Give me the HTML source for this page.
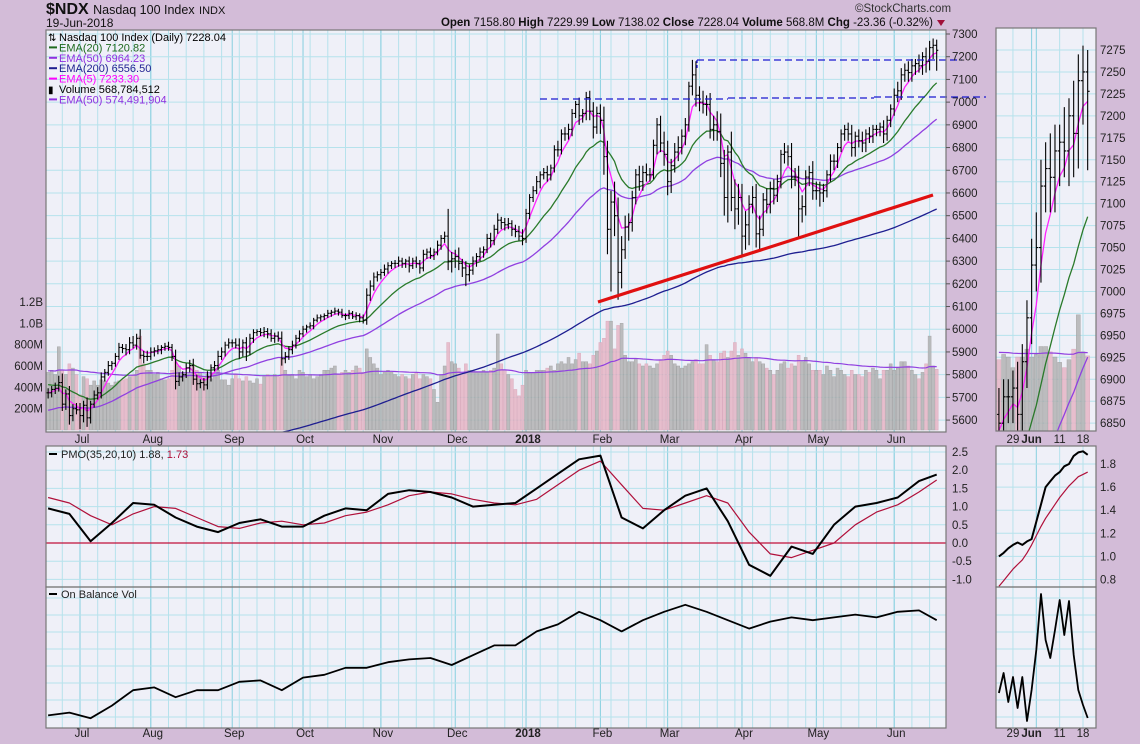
<!DOCTYPE html>
<html><head><meta charset="utf-8">
<style>
html,body{margin:0;padding:0;background:#d3bcd8;width:1140px;height:744px;overflow:hidden;}
svg{display:block;font-family:"Liberation Sans",sans-serif;overflow:hidden;}
</style></head>
<body>
<svg id="chart" width="1140" height="744" viewBox="0 0 1140 744">
<rect x="0" y="0" width="1140" height="744" fill="#d3bcd8"/>
<text x="46" y="14" font-size="16" font-weight="bold" fill="#111">$NDX <tspan font-size="12.5" font-weight="normal">Nasdaq 100 Index</tspan> <tspan font-size="11" font-weight="normal">INDX</tspan></text>
<text x="46" y="27" font-size="12" fill="#111">19-Jun-2018</text>
<text x="855" y="12" font-size="11.5" fill="#333">©StockCharts.com</text>
<text x="933" y="26" font-size="11.5" fill="#111" text-anchor="end"><tspan font-weight="bold">Open</tspan> 7158.80 <tspan font-weight="bold">High</tspan> 7229.99 <tspan font-weight="bold">Low</tspan> 7138.02 <tspan font-weight="bold">Close</tspan> 7228.04 <tspan font-weight="bold">Volume</tspan> 568.8M <tspan font-weight="bold">Chg</tspan> -23.36 (-0.32%)</text>
<path d="M937 20 L945 20 L941 26 Z" fill="#a0103a"/>
</svg>
<script>
// ---------- DATA ----------
const closes=[5720,5735,5740,5765,5670,5715,5620,5650,5645,
5620,5665,5610,5670,5710,5720,5790,5810,5840,5850,5880,5920,5915,5910,5940,5930,5960,5885,5880,5880,
5900,5905,5910,5920,5925,5920,5880,5770,5790,5800,5830,5840,5780,5760,5765,5755,5790,5830,5840,5880,5900,5930,5940,
5940,5930,5900,5940,5900,5960,5985,5990,5985,5990,5980,5960,5970,5960,5870,5880,5910,5930,5960,5980,
6000,6010,6015,6040,6050,6055,6060,6070,6075,6080,6075,6060,6060,6070,6055,6060,6050,6040,6150,6190,6230,6240,
6250,6265,6280,6290,6290,6300,6290,6300,6280,6300,6290,6270,6330,6340,6325,6340,6370,6400,6410,6300,6310,
6320,6290,6270,6240,6260,6300,6320,6340,6350,6400,6390,6440,6480,6470,6460,6465,6440,6430,6410,6400,
6510,6580,6610,6650,6680,6690,6680,6710,6790,6790,6860,6860,6880,6950,6990,6940,6950,7020,6960,6890,6950,
6920,6760,6440,6560,6500,6250,6350,6450,6470,6580,6680,6650,6690,6680,6680,6810,6900,6820,6770,
6650,6720,6780,6800,6850,6900,7070,7120,7030,7000,6990,6990,6880,6900,6870,6730,6580,6780,6580,6530,6580,
6410,6460,6550,6580,6420,6440,6570,6550,6620,6590,6650,6770,6780,6760,6670,6670,6530,6540,6670,6690,6610,
6610,6600,6610,6680,6740,6740,6800,6860,6880,6860,6800,6850,6830,6820,6860,6850,6880,6880,6890,6860,6920,6970,
7030,7050,7120,7140,7130,7160,7170,7160,7200,7180,7240,7250,7228];
const hiWick=[20,15,25,30,40,20,35,20,25, 30,20,35,15,20,25,20,15,20,10,15,20,15,20,25,30,20,40,20,25,
20,15,20,10,15,20,15,30,20,15,20,25,30,20,15,20,25,15,20,25,20,15,20,
15,20,30,15,25,20,15,10,15,20,15,20,15,20,30,20,15,20,15,15,
15,10,15,10,15,10,10,15,10,15,10,15,10,15,10,15,10,15,30,25,20,15,
15,20,15,10,15,20,15,10,20,15,20,15,20,15,20,15,20,15,20,120,30,
30,40,20,30,25,20,15,20,15,20,25,20,30,15,20,25,15,20,25,30,
20,15,20,25,15,20,30,15,20,40,20,30,25,20,15,30,20,25,30,40,30,
40,60,70,50,90,80,60,50,40,30,25,40,30,40,30,25,30,40,50,
60,30,40,50,30,30,20,66,60,40,50,40,50,40,60,80,60,30,90,80,60,
60,60,40,50,60,60,30,50,30,40,30,20,40,30,60,40,50,50,30,30,50,
40,40,30,20,30,30,20,20,20,30,40,20,30,40,20,30,20,20,20,30,20,20,
30,40,30,30,40,30,20,40,20,40,30,30,25];
const loWick=[25,20,20,15,30,25,40,25,20, 60,30,40,25,15,20,25,20,15,20,15,15,20,25,20,15,20,15,30,20,
15,20,15,20,15,15,20,35,20,20,15,20,25,30,20,25,20,20,15,20,15,20,15,
20,15,30,20,40,15,20,15,15,20,20,15,20,15,30,20,15,20,15,15,
15,15,10,15,10,15,15,10,15,10,15,10,20,15,10,15,20,15,20,25,20,20,
20,15,20,15,20,15,20,20,30,15,20,25,15,20,15,20,15,20,20,40,50,
40,30,40,50,30,20,25,20,25,15,30,20,20,30,25,20,30,25,20,30,
20,25,20,15,30,20,30,25,20,30,20,30,25,30,20,40,30,30,40,50,30,
60,80,110,274,90,120,70,40,60,40,30,40,40,30,30,20,40,40,50,
60,50,30,40,30,40,30,40,50,40,40,50,40,50,40,60,80,110,60,90,70,
90,60,90,40,60,80,30,40,40,40,30,30,40,40,50,40,130,60,40,40,40,
40,60,40,30,30,40,30,20,30,30,40,40,30,40,40,30,30,30,30,40,30,30,
30,30,40,30,40,40,40,30,40,50,40,50,90];
const volumeM=[540,560,520,780,560,520,620,580,520,
330,500,480,420,460,420,470,460,440,420,450,460,470,480,500,520,560,880,620,560,
560,520,540,480,470,480,560,640,600,540,520,520,600,560,540,500,520,480,520,560,470,470,420,
480,520,480,460,500,460,440,480,430,500,520,500,520,500,680,560,510,520,480,560,
540,500,520,480,500,520,560,560,580,600,520,540,560,540,560,600,580,540,760,680,620,580,
520,540,560,540,520,500,520,500,480,520,540,480,520,500,480,380,260,520,600,820,640,
620,580,520,620,560,560,540,540,560,540,560,580,900,620,560,520,480,380,320,420,
560,540,540,560,560,560,580,600,560,620,640,620,680,620,660,720,640,640,620,700,740,
820,860,1020,1020,760,980,1000,700,640,640,660,620,600,620,600,580,620,660,700,
740,700,620,600,580,600,620,640,660,620,620,800,700,660,640,720,740,680,740,820,700,
760,720,680,640,680,640,620,580,560,520,560,620,640,580,620,600,700,640,680,620,560,
560,560,520,600,560,500,580,560,520,500,560,520,520,500,560,540,580,560,480,560,560,620,
560,580,640,640,600,560,520,480,540,620,880,600,569];
// EMA starting values (history before the window)
const seedEma5=5720, seedEma20=5760, seedEma50=5640, seedEma200=5250, seedVolEma50=555;
// PMO sampled every 6 bars (plus last bar)
const pmoLine=[0.95,0.8,0.05,0.55,1.1,1.05,0.7,0.45,0.3,0.55,0.65,0.45,0.45,0.75,0.95,0.9,1.35,1.45,1.4,1.25,1.0,1.05,1.1,1.5,1.9,2.3,2.4,0.7,0.4,0.9,1.3,1.5,0.6,-0.6,-0.9,-0.1,-0.3,0.5,1.0,1.1,1.25,1.7,1.88];
const pmoSignal=[1.25,1.1,0.75,0.5,0.8,1.0,0.95,0.7,0.45,0.4,0.55,0.6,0.5,0.55,0.75,0.85,1.05,1.3,1.4,1.35,1.2,1.1,1.05,1.2,1.6,2.0,2.25,1.6,0.95,0.9,1.1,1.3,1.1,0.3,-0.3,-0.4,-0.2,0.0,0.5,0.85,1.05,1.4,1.73];
const obvLine=[0.9,1.1,0.7,1.6,2.7,2.9,2.2,2.7,2.7,3.3,3.4,2.7,3.6,3.8,4.3,4.3,4.7,4.9,5.0,4.5,5.2,5.9,5.9,6.9,7.4,8.3,7.7,6.9,7.7,8.3,8.8,8.3,7.7,7.1,7.6,7.9,7.7,7.9,8.1,7.9,8.3,8.4,7.7];
// side panel (last 20 bars)
const sidePmo=[1.0,1.03,1.07,1.1,1.12,1.1,1.13,1.15,1.3,1.45,1.6,1.65,1.7,1.73,1.78,1.8,1.87,1.9,1.91,1.88];
const sideSignal=[0.74,0.79,0.84,0.89,0.93,0.97,1.03,1.1,1.18,1.26,1.33,1.39,1.45,1.51,1.56,1.61,1.65,1.69,1.71,1.73];
const sideObv=[3.5,5.5,2.6,5.1,2.0,5.1,0.7,3.8,7.8,13.4,8.8,7.0,9.8,12.8,9.3,12.7,7.3,3.8,2.3,1.0];
const monthStarts=[9,29,52,72,94,115,135,156,175,196,217,239];
const monthLabels=['Jul','Aug','Sep','Oct','Nov','Dec','2018','Feb','Mar','Apr','May','Jun'];
const priceTicks=[7300,7200,7100,7000,6900,6800,6700,6600,6500,6400,6300,6200,6100,6000,5900,5800,5700,5600];
const volTicks=[1200,1000,800,600,400,200];
const volTickLabels=['1.2B','1.0B','800M','600M','400M','200M'];
const pmoTicks=[2.5,2.0,1.5,1.0,0.5,0.0,-0.5,-1.0];
const sidePriceTicks=[7275,7250,7225,7200,7175,7150,7125,7100,7075,7050,7025,7000,6975,6950,6925,6900,6875,6850];
const sidePmoTicks=[1.8,1.6,1.4,1.2,1.0,0.8];
const sideDateIdx=[235,239,245,250];
const sideDateLabels=['29','Jun','11','18'];

// ---------- SCALES ----------
const svg=document.getElementById('chart');
const NS='http://www.w3.org/2000/svg';
function mk(tag,attrs,parent){const e=document.createElementNS(NS,tag);for(const k in attrs)e.setAttribute(k,attrs[k]);(parent||svg).appendChild(e);return e;}
const mx=i=>80+(i-9)*3.54;
const py=p=>34+(7300-p)*0.2271;
const vy=v=>430-v*0.1067;
const pmoY=v=>543-v*36.4;
const obvY=v=>728-v*14;
const SIDE0=232;
const sx=i=>1083+(i-250)*4.67;
const spy=p=>50+(7275-p)*0.878;
const svy=v=>431-v*0.132;
const spmoY=v=>464+(1.8-v)*115.5;
const sobvY=v=>728-v*10;
const N=closes.length;
const sampleIdx=k=>Math.min(k*6,N-1);

function ema(arr,n,seed){const k=2/(n+1);let e=seed;return arr.map(v=>(e=e+k*(v-e)));}
const ema5=ema(closes,5,seedEma5),ema20=ema(closes,20,seedEma20),ema50=ema(closes,50,seedEma50),ema200=ema(closes,200,seedEma200);
const volEma=ema(volumeM,50,seedVolEma50);

const defs=mk('defs',{});
function clip(id,x,y,w,h){const c=mk('clipPath',{id:id},defs);mk('rect',{x:x,y:y,width:w,height:h},c);}
clip('cMain',46,30,900,402);clip('cPmo',46,446,900,141);clip('cObv',46,587,900,141);
clip('cSMain',996,28,100,403);clip('cSPmo',996,446,100,141);clip('cSObv',996,587,100,141);

const BG='#eff0f8',GRID='#b6e2ec',GRIDM='#86cfdf',FR='#777';
function panel(name,x,y,w,h){const r=mk('rect',{x:x,y:y,width:w,height:h,fill:BG});}
panel('price-panel',46,30,900,402);panel('pmo-panel',46,446,900,141);panel('obv-panel',46,587,900,141);
panel('side-price-panel',996,28,100,403);panel('side-pmo-panel',996,446,100,141);panel('side-obv-panel',996,587,100,141);

// grids
function vgrid(x,y1,y2,major){const l=mk('line',{x1:x,x2:x,y1:y1,y2:y2,stroke:major?GRIDM:GRID,'stroke-width':1});}
function hgrid(y,x1,x2){const l=mk('line',{x1:x1,x2:x2,y1:y,y2:y,stroke:GRID,'stroke-width':1});}
for(let i=4;i<N;i+=5){const x=mx(i);if(x>46&&x<946){vgrid(x,30,432,false);vgrid(x,446,728,false);}}
monthStarts.forEach(i=>{vgrid(mx(i),30,432,true);vgrid(mx(i),446,728,true);});
priceTicks.forEach(p=>hgrid(py(p),46,946));
pmoTicks.forEach(v=>hgrid(pmoY(v),46,946));
for(let k=0;k<8;k++){hgrid(598+k*17,46,946);}
[235,240,245,250].forEach(i=>{vgrid(sx(i),28,431,i===240);vgrid(sx(i),446,728,i===240);});
vgrid(sx(239),28,431,true);
sidePriceTicks.forEach(p=>hgrid(spy(p),996,1096));
sidePmoTicks.forEach(v=>hgrid(spmoY(v),996,1096));
for(let k=0;k<8;k++){hgrid(598+k*17,996,1096);}

// volume bars
function volBars(gClip,xf,yf,w,from){const g=mk('g',{'clip-path':'url(#'+gClip+')'});
 for(let i=from;i<N;i++){const up=i===0||closes[i]>=closes[i-1];const y=yf(volumeM[i]);
  const r=mk('rect',{x:xf(i)-w/2,y:y,width:w,height:Math.max(0,yf(0)-y),fill:up?'#b4b4b4':'#e6b6c6',stroke:up?'#9a9a9a':'#d8a0b4','stroke-width':0.5,opacity:0.85},g);
  
  }
 return g;}
volBars('cMain',mx,vy,3,0);
volBars('cSMain',sx,svy,4,SIDE0);

function polyline(pts,color,w,gClip,name){const p=mk('polyline',{points:pts.map(q=>q[0].toFixed(1)+','+q[1].toFixed(1)).join(' '),fill:'none',stroke:color,'stroke-width':w,'stroke-linejoin':'round','clip-path':'url(#'+gClip+')'});
 
 return p;}
polyline(volEma.map((v,i)=>[mx(i),vy(v)]),'#9040e0',1.2,'cMain','volume-ema50-line');
polyline(volEma.map((v,i)=>[sx(i),svy(v)]).slice(SIDE0),'#9040e0',1.2,'cSMain','side-volume-ema50-line');

// EMAs
[[ema200,'#1e1e90','ema200-line'],[ema50,'#9040e0','ema50-line'],[ema20,'#2a7a2a','ema20-line'],[ema5,'#ff22ff','ema5-line']].forEach(([a,c,n])=>{
 polyline(a.map((v,i)=>[mx(i),py(v)]),c,1.3,'cMain',n);
 polyline(a.map((v,i)=>[sx(i),spy(v)]).slice(SIDE0-1),c,1.3,'cSMain','side-'+n);
});

// price bars
function bars(gClip,xf,yf,tick,from){const g=mk('g',{'clip-path':'url(#'+gClip+')',stroke:'#000','stroke-width':1.1});
 for(let i=from;i<N;i++){const o=i>0?closes[i-1]:closes[i];const c=closes[i];
  const hi=Math.max(o,c)+hiWick[i],lo=Math.min(o,c)-loWick[i];const x=xf(i);
  const d='M'+x+' '+yf(hi)+'V'+yf(lo)+'M'+(x-tick)+' '+yf(o)+'H'+x+'M'+x+' '+yf(c)+'H'+(x+tick);
  const p=mk('path',{d:d,fill:'none'},g);
  
  }}
bars('cMain',mx,py,1.6,0);
bars('cSMain',sx,spy,2,SIDE0);

// annotations
function ann(d,color,w,dash,name){const p=mk('path',{d:d,stroke:color,'stroke-width':w,fill:'none','stroke-dasharray':dash||''});}
ann('M540 99 H728 M728 98 H874 M874 97 H986','#1a1ad0',1.3,'7,4','resistance-line-7020');
ann('M697 60 H962','#1a1ad0',1.3,'7,4','resistance-line-7190');
ann('M697 60 V70','#1a1ad0',1.3,'3,2','resistance-line-start');
ann('M598 302 L933 195','#e01010',3.2,'','support-trendline');

// PMO
const pmoPts=(arr,yf)=>arr.map((v,k)=>[mx(sampleIdx(k)),yf(v)]);
const z=mk('line',{x1:46,x2:946,y1:pmoY(0),y2:pmoY(0),stroke:'#c0103a','stroke-width':1.2});
polyline(pmoPts(pmoSignal,pmoY),'#b0103a',1.2,'cPmo','pmo-signal-line');
polyline(pmoPts(pmoLine,pmoY),'#000',2,'cPmo','pmo-line');
polyline(sideSignal.map((v,k)=>[sx(SIDE0+k),spmoY(v)]),'#b0103a',1.2,'cSPmo','side-pmo-signal-line');
polyline(sidePmo.map((v,k)=>[sx(SIDE0+k),spmoY(v)]),'#000',2,'cSPmo','side-pmo-line');
// OBV
polyline(pmoPts(obvLine,obvY),'#000',1.8,'cObv','obv-line');
polyline(sideObv.map((v,k)=>[sx(SIDE0+k),sobvY(v)]),'#000',1.8,'cSObv','side-obv-line');

// frames
[[46,30,900,402],[46,446,900,141],[46,587,900,141],[996,28,100,403],[996,446,100,141],[996,587,100,141]].forEach(f=>{
 const r=mk('rect',{x:f[0],y:f[1],width:f[2],height:f[3],fill:'none',stroke:FR,'stroke-width':1.2});
 
 });

// axis labels
function txt(x,y,s,opt,name){const t=mk('text',Object.assign({x:x,y:y,'font-size':11.5,fill:'#222'},opt||{}));t.textContent=s;return t;}
priceTicks.forEach(p=>{txt(952,py(p)+4,String(p),{},'price-tick-label');mk('line',{x1:946,x2:950,y1:py(p),y2:py(p),stroke:'#555'});});
volTicks.forEach((v,k)=>{txt(43,vy(v)+4,volTickLabels[k],{'text-anchor':'end'},'volume-tick-label');});
pmoTicks.forEach(v=>{txt(952,pmoY(v)+4,v.toFixed(1),{},'pmo-tick-label');});
sidePriceTicks.forEach(p=>{txt(1100,spy(p)+4,String(p),{},'side-price-tick-label');});
sidePmoTicks.forEach(v=>{txt(1100,spmoY(v)+4,v.toFixed(1),{},'side-pmo-tick-label');});
monthStarts.forEach((i,k)=>{const o={'text-anchor':'middle'};if(monthLabels[k]==='2018')o['font-weight']='bold';
 txt(mx(i)+2,443,monthLabels[k],o,'x-axis-label');txt(mx(i)+2,737,monthLabels[k],o,'x-axis-label-bottom');});
sideDateIdx.forEach((i,k)=>{const o={'text-anchor':'middle'};if(sideDateLabels[k]==='Jun')o['font-weight']='bold';
 txt(sx(i),443,sideDateLabels[k],o,'side-x-axis-label');txt(sx(i),737,sideDateLabels[k],o,'side-x-axis-label-bottom');});

// legends
const leg=[['Nasdaq 100 Index (Daily) 7228.04','#000','bar'],['EMA(20) 7120.82','#1e6a1e','line'],['EMA(50) 6964.23','#9030e0','line'],['EMA(200) 6556.50','#1e1e90','line'],['EMA(5) 7233.30','#ff00ff','line'],['Volume 568,784,512','#000','vol'],['EMA(50) 574,491,904','#9030e0','line']];
leg.forEach((l,k)=>{const y=41+k*10.4;
 if(l[2]==='line'){const m=mk('line',{x1:49,x2:57,y1:y-4,y2:y-4,stroke:l[1],'stroke-width':2});}
 else{const m=mk('text',{x:48,y:y,'font-size':10,fill:'#000'});m.textContent=l[2]==='bar'?'⇅':'▮';}
 txt(59,y,l[0],{'font-size':11,fill:l[1]},'legend-entry');});
const pl=mk('line',{x1:49,x2:57,y1:454,y2:454,stroke:'#000','stroke-width':2});
const pt=txt(61,458,'PMO(35,20,10) 1.88, ',{'font-size':11},'pmo-legend');
const ps=mk('tspan',{fill:'#b0103a'},pt);ps.textContent='1.73';
const ol=mk('line',{x1:49,x2:57,y1:594,y2:594,stroke:'#000','stroke-width':2});
txt(61,598,'On Balance Vol',{'font-size':11},'obv-legend');
</script>
</body></html>
